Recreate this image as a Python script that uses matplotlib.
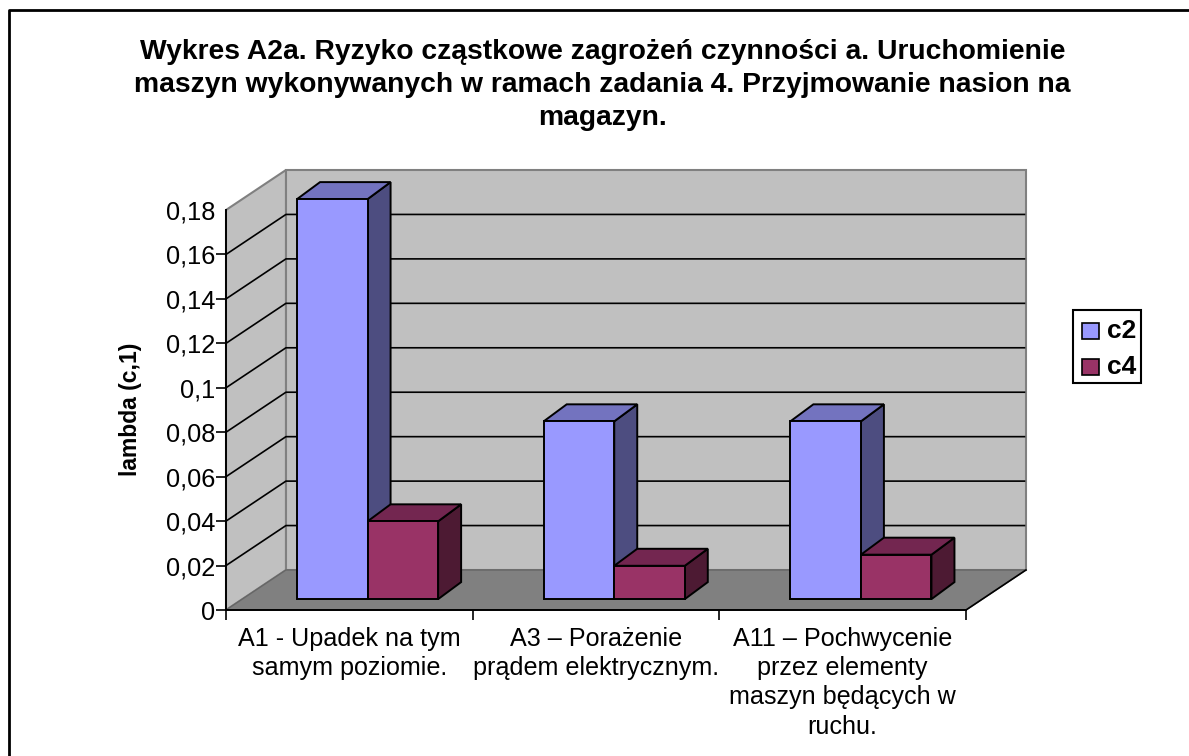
import matplotlib
matplotlib.use('Agg')
import matplotlib.pyplot as plt
from matplotlib.patches import Polygon, Rectangle
from matplotlib.lines import Line2D

plt.rcParams['font.family'] = ['Liberation Sans', 'DejaVu Sans']

title = 'Wykres A2a. Ryzyko cząstkowe zagrożeń czynności a. Uruchomienie\nmaszyn wykonywanych w ramach zadania 4. Przyjmowanie nasion na\nmagazyn.'
categories = ['A1 - Upadek na tym\nsamym poziomie.', 'A3 – Porażenie\nprądem elektrycznym.',
              'A11 – Pochwycenie\nprzez elementy\nmaszyn będących w\nruchu.']
c2 = [0.18, 0.08, 0.08]
c4 = [0.035, 0.015, 0.02]
yticks = [0, 0.02, 0.04, 0.06, 0.08, 0.1, 0.12, 0.14, 0.16, 0.18]
yticklabels = ['0', '0,02', '0,04', '0,06', '0,08', '0,1', '0,12', '0,14', '0,16', '0,18']

W, H = 1189, 756
fig = plt.figure(figsize=(W / 100, H / 100), dpi=100)
ax = fig.add_axes([226 / W, 1 - 610 / H, 740 / W, 400 / H])
ax.set_xlim(0, 3)
ax.set_ylim(0, 0.18)
ax.patch.set_visible(False)

# fake 3d depth, in data units
depth_x, depth_y = 0.243, 0.018
bar_dx, bar_dy = 0.0932, 0.00765
shift_x, shift_y = 0.069, 0.0049
bar_w = 0.286
bar_start = 0.219


def poly(pts, face, edge, lw=1.2, z=1):
    ax.add_patch(Polygon(pts, closed=True, facecolor=face, edgecolor=edge, lw=lw, zorder=z,
                         clip_on=False, joinstyle='miter'))


# walls and floor
ymax = yticks[-1]
poly([(depth_x, depth_y), (3 + depth_x, depth_y), (3 + depth_x, ymax + depth_y), (depth_x, ymax + depth_y)],
     '#C0C0C0', '#808080', 1.5)
poly([(0, 0), (depth_x, depth_y), (depth_x, ymax + depth_y), (0, ymax)], '#C0C0C0', '#808080', 1.5)
poly([(0, 0), (3, 0), (3 + depth_x, depth_y), (depth_x, depth_y)], '#808080', '#666666', 1.0)
ax.plot([3, 3 + depth_x], [0, depth_y], color='black', lw=1.2, zorder=2, clip_on=False)

# gridlines on both walls
for v in yticks[1:-1]:
    ax.plot([0, depth_x, 3 + depth_x - 0.006], [v, v + depth_y, v + depth_y], color='black', lw=1.2, zorder=2,
            clip_on=False)


def bar3d(x, v, front, top, side):
    x0 = x + shift_x
    y0 = shift_y
    y1 = v + shift_y
    x1 = x0 + bar_w
    poly([(x1, y0), (x1 + bar_dx, y0 + bar_dy), (x1 + bar_dx, y1 + bar_dy), (x1, y1)], side, 'black', 1.4, 3)
    poly([(x0, y1), (x1, y1), (x1 + bar_dx, y1 + bar_dy), (x0 + bar_dx, y1 + bar_dy)], top, 'black', 1.4, 3)
    poly([(x0, y0), (x1, y0), (x1, y1), (x0, y1)], front, 'black', 1.4, 3)


for i in range(len(categories)):
    bar3d(i + bar_start, c2[i], '#9999FF', '#7373BF', '#4D4D80')
    bar3d(i + bar_start + bar_w, c4[i], '#993366', '#732650', '#4D1A33')

# axes
for s in ['top', 'right']:
    ax.spines[s].set_visible(False)
for s in ['left', 'bottom']:
    ax.spines[s].set_linewidth(1.4)
    ax.spines[s].set_zorder(4)
ax.set_yticks(yticks)
ax.set_yticklabels(yticklabels, fontsize=18.3)
ax.tick_params(axis='y', length=7, width=1.2, pad=1)
ax.yaxis.get_major_ticks()[-1].tick1line.set_visible(False)
ax.set_xticks([0, 1, 2, 3])
ax.set_xticklabels([])
ax.tick_params(axis='x', which='major', length=7, width=1.2)
ax.set_xticks([0.5, 1.5, 2.5], minor=True)
ax.set_xticklabels(categories, minor=True, fontsize=18.1, linespacing=1.28)
ax.tick_params(axis='x', which='minor', length=0, pad=12)

fig.text(602.5 / W, 1 - 85 / H, title, ha='center', va='center', fontsize=20.3, fontweight='bold', linespacing=1.34)
fig.text(131 / W, 1 - 409 / H, 'lambda (c,1)', rotation=90, ha='center', va='center', fontsize=16.5, fontweight='bold')

# legend
fig.add_artist(Rectangle((1073 / W, 1 - 383 / H), 68 / W, 73 / H, transform=fig.transFigure, facecolor='white',
                         edgecolor='black', lw=1.5))
for name, col, yc in [('c2', '#9999FF', 331), ('c4', '#993366', 367)]:
    fig.add_artist(Rectangle((1082 / W, 1 - (yc + 7.5) / H), 17 / W, 15 / H, transform=fig.transFigure,
                             facecolor=col, edgecolor='black', lw=1.2))
    fig.text(1107 / W, 1 - yc / H, name, ha='left', va='center', fontsize=19, fontweight='bold')

# outer frame, only top and left are in the picture
fig.add_artist(Line2D([8.5 / W, 8.5 / W, 1], [0, 1 - 10 / H, 1 - 10 / H], transform=fig.transFigure, color='black',
                      lw=2))

fig.savefig('out.png', dpi=100)
